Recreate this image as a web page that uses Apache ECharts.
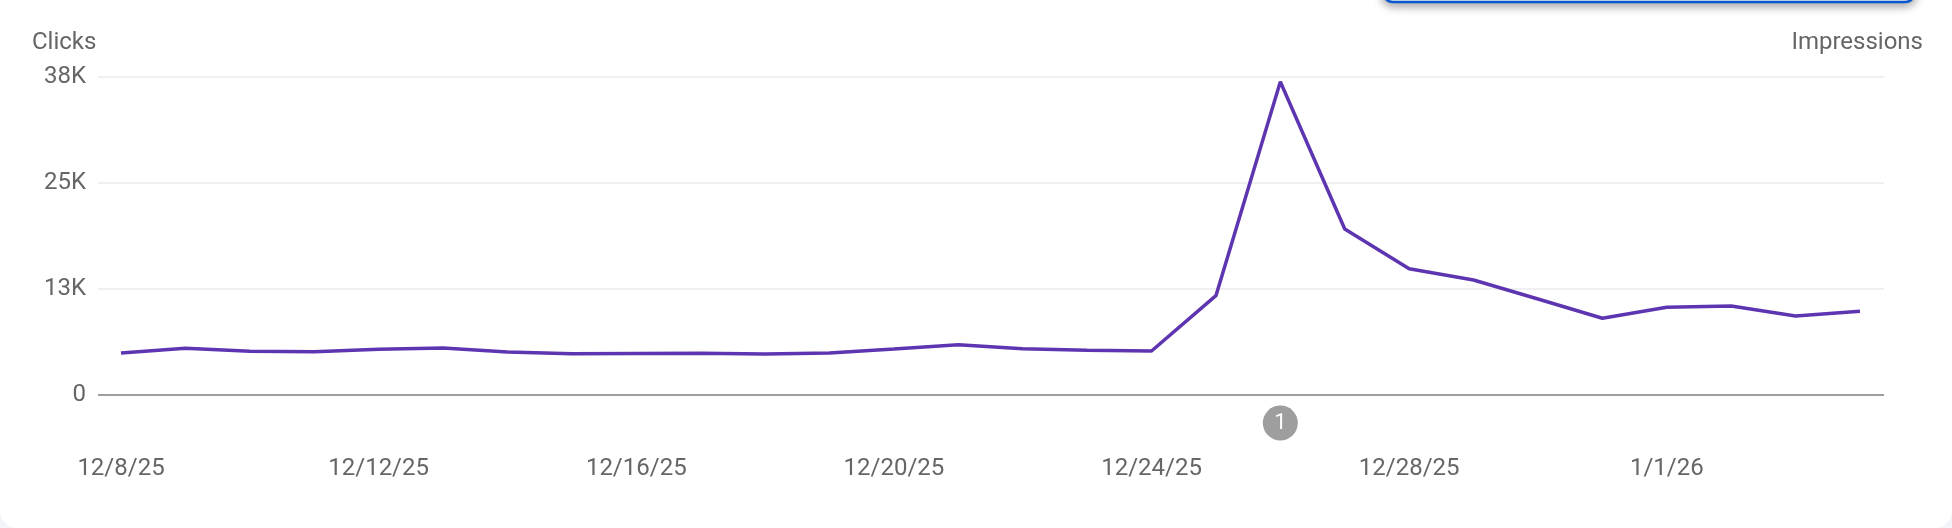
<!DOCTYPE html>
<html>
<head>
<meta charset="utf-8">
<script src="https://cdn.jsdelivr.net/npm/echarts@6/dist/echarts.min.js"></script>
<style>
  html, body { margin: 0; padding: 0; background: #f1f4f9; }
  #chart { width: 1952px; height: 528px; background: #ffffff; border-radius: 0 0 18px 18px; overflow: hidden; }
</style>
</head>
<body>
<div id="chart"></div>
<script>
const categories = ['12/8/25','12/9/25','12/10/25','12/11/25','12/12/25','12/13/25','12/14/25','12/15/25','12/16/25','12/17/25','12/18/25','12/19/25','12/20/25','12/21/25','12/22/25','12/23/25','12/24/25','12/25/25','12/26/25','12/27/25','12/28/25','12/29/25','12/30/25','12/31/25','1/1/26','1/2/26','1/3/26','1/4/26'];
const clicks = [5020, 5580, 5220, 5180, 5460, 5620, 5140, 4940, 4960, 4980, 4900, 5020, 5500, 6010, 5530, 5340, 5260, 11870, 37440, 19840, 15090, 13740, 11470, 9170, 10480, 10640, 9440, 10000];
const yMax = 38000;
const yTickCount = 3;
const yAxisTitle = 'Clicks';
const y2AxisTitle = 'Impressions';
const annotationDate = '12/26/25';
const annotationLabel = '1';

const textColor = '#666666';
const font = 'Roboto';
const chart = echarts.init(document.getElementById('chart'), null, { renderer: 'canvas' });

const option = {
  animation: false,
  backgroundColor: '#ffffff',
  grid: [
    { left: 98, right: 68, top: 77, bottom: 133 },
    { left: 121, right: 92, top: 77, bottom: 133 }
  ],
  xAxis: [
    { gridIndex: 0, type: 'value', min: 0, max: 1, show: false },
    {
      gridIndex: 1, type: 'category', data: categories, boundaryGap: false,
      axisLine: { show: false }, axisTick: { show: false }, splitLine: { show: false },
      axisLabel: { interval: 3, margin: 62, color: textColor, fontSize: 24, fontFamily: font }
    }
  ],
  yAxis: [
    {
      gridIndex: 0, type: 'value', min: 0, max: yMax, interval: yMax / yTickCount,
      axisLine: { show: false }, axisTick: { show: false },
      splitLine: { lineStyle: { color: '#ebebeb', width: 1.5 } },
      axisLabel: {
        margin: 12, color: textColor, fontSize: 24, fontFamily: font,
        formatter: v => v === 0 ? '0' : Math.round(v / 1000) + 'K'
      }
    },
    { gridIndex: 1, type: 'value', min: 0, max: yMax, show: false, splitLine: { show: false } }
  ],
  series: [
    {
      type: 'line', xAxisIndex: 0, yAxisIndex: 0, data: [], silent: true,
      markLine: {
        silent: true, symbol: 'none', label: { show: false },
        lineStyle: { color: '#9e9e9e', width: 2, type: 'solid' },
        data: [{ yAxis: 0 }]
      }
    },
    {
      type: 'line', xAxisIndex: 1, yAxisIndex: 1, data: clicks,
      symbol: 'none', lineStyle: { color: '#5e35b1', width: 3.5 }, itemStyle: { color: '#5e35b1' }
    }
  ]
};
chart.setOption(option);

const ax = chart.convertToPixel({ xAxisIndex: 1 }, annotationDate);
const axisY = chart.convertToPixel({ yAxisIndex: 0 }, 0);
chart.setOption({
  graphic: [
    {
      id: 'title1', type: 'text', x: 32, y: 43,
      style: { text: yAxisTitle, fill: textColor, font: '24px Roboto', verticalAlign: 'middle' }
    },
    {
      id: 'title2', type: 'text', x: 1923, y: 43,
      style: { text: y2AxisTitle, fill: textColor, font: '24px Roboto', align: 'right', verticalAlign: 'middle' }
    },
    {
      id: 'topbox', type: 'rect', shape: { x: 1383, y: -30, width: 532, height: 32, r: 10 },
      style: { fill: '#ffffff', stroke: '#0b57d0', lineWidth: 2.5, shadowBlur: 10, shadowColor: 'rgba(0,0,0,0.35)', shadowOffsetY: 3 },
      z: 100
    },
    {
      id: 'badgeCircle', type: 'circle', shape: { cx: ax, cy: axisY + 28, r: 17.5 },
      style: { fill: '#9e9e9e' }, z: 100
    },
    {
      id: 'badgeText', type: 'text', x: ax, y: axisY + 28, z: 101,
      style: { text: annotationLabel, fill: '#ffffff', font: '22px Roboto', align: 'center', verticalAlign: 'middle' }
    }
  ]
});
</script>
</body>
</html>
